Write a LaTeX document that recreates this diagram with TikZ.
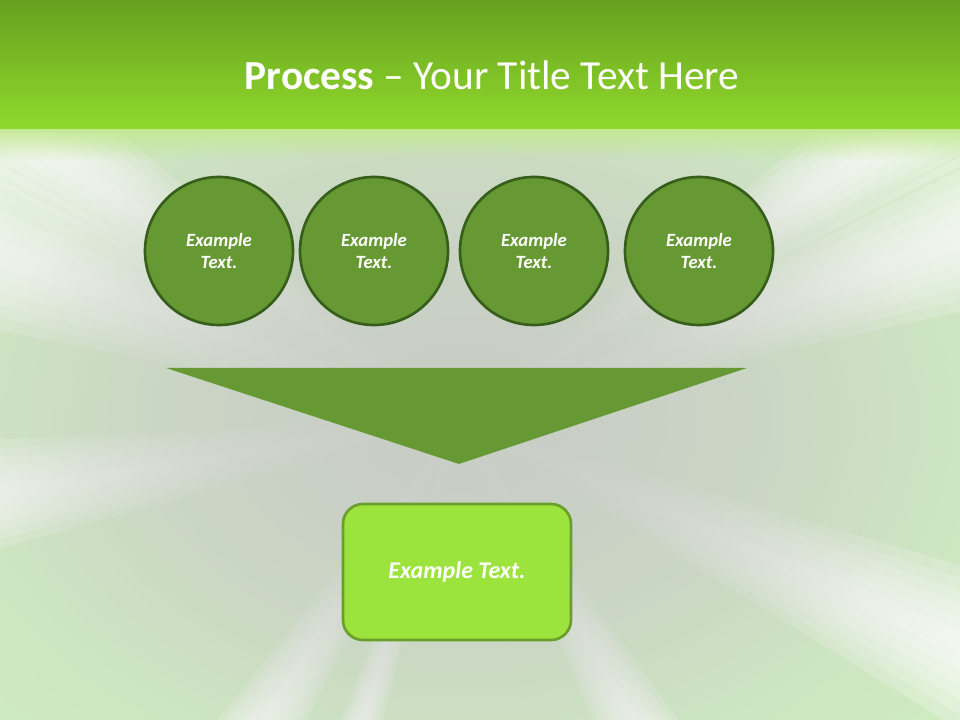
\documentclass[tikz,border=0pt]{standalone}
\usepackage{fontspec}
\setmainfont{Carlito}
\usetikzlibrary{fadings}

\definecolor{bandTop}{HTML}{67A01E}
\definecolor{bandBottom}{HTML}{90DA2C}
\definecolor{bandGlow}{HTML}{C4E995}
\definecolor{bgLight}{HTML}{CFEBC2}
\definecolor{bgGrey}{HTML}{C9CEC6}
\definecolor{stageFill}{HTML}{669933}
\definecolor{stageLine}{HTML}{375F1B}
\definecolor{resultFill}{HTML}{9CE33D}
\definecolor{resultLine}{HTML}{6A9F2B}

\tikzfading[name=glowfade, inner color=transparent!0, outer color=transparent!100]
\tikzfading[name=stripfade, top color=transparent!0, bottom color=transparent!100]

\begin{document}
\begin{tikzpicture}[x=0.75pt,y=0.75pt,
		stage/.style={circle, draw=stageLine, fill=stageFill, line width=2pt, minimum size=111pt,
			text=white, align=center, font=\fontsize{14}{17}\selectfont\bfseries\itshape},
		result/.style={rectangle, rounded corners=15pt, draw=resultLine, fill=resultFill, line width=2pt,
			minimum width=171pt, minimum height=102pt, text=white, font=\fontsize{18}{22}\selectfont\bfseries\itshape}]
		\useasboundingbox (0,0) rectangle (960,720);
		% background burst
		\fill[bgLight] (0,0) rectangle (960,720);
		\coordinate (burst) at (460,300);
		\foreach \a/\s in {147/1.2,160/1.5,189/1.1,237/1.0,252/0.6,300/1.0,336/1.3,20/1.3,33/1.0}
			\foreach \w in {1,...,6}
				\fill[white, opacity=0.23] (burst) -- ++(\a-\s*\w:900) -- ++(\a+90:{2*900*sin(\s*\w)}) -- cycle;
		\fill[bgGrey, path fading=glowfade] (burst) ellipse [x radius=470, y radius=330];
		\fill[bgGrey, path fading=glowfade] (burst) ellipse [x radius=620, y radius=440];
		% title band
		\shade[top color=bandTop, bottom color=bandBottom] (0,590) rectangle (960,720);
		\fill[bandGlow, path fading=stripfade] (0,560) rectangle (960,591);
		\node[text=white, font=\fontsize{31}{37}\selectfont] (title) at (492,645) {\textbf{Process} -- Your Title Text Here};
		% stages
		\node[stage] (s1) at (219,469) {Example\\Text.};
		\node[stage] (s2) at (374,469) {Example\\Text.};
		\node[stage] (s3) at (534,469) {Example\\Text.};
		\node[stage] (s4) at (699,469) {Example\\Text.};
		\fill[stageFill] (166,352) -- (747,352) -- (459,256) -- cycle;
		\node[result] (r) at (457,148) {Example Text.};
		\end{tikzpicture}
\end{document}
